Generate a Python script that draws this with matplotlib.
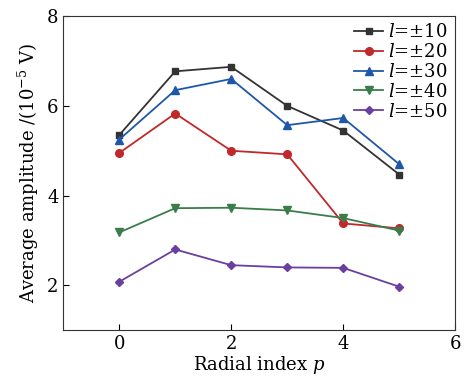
import matplotlib
matplotlib.use('Agg')
import matplotlib.pyplot as plt

plt.rcParams['font.family'] = 'DejaVu Serif'
plt.rcParams['mathtext.fontset'] = 'dejavuserif'

# radial index p
p = [0, 1, 2, 3, 4, 5]
# average amplitude (1e-5 V) for each topological charge
amp10 = [5.35, 6.77, 6.87, 6.00, 5.45, 4.47]
amp20 = [4.95, 5.83, 5.00, 4.92, 3.38, 3.27]
amp30 = [5.25, 6.35, 6.60, 5.57, 5.73, 4.70]
amp40 = [3.18, 3.72, 3.73, 3.67, 3.50, 3.22]
amp50 = [2.08, 2.80, 2.45, 2.40, 2.39, 1.97]
labels = [r'$l$=$\pm$10', r'$l$=$\pm$20', r'$l$=$\pm$30', r'$l$=$\pm$40', r'$l$=$\pm$50']

fig = plt.figure(figsize=(4.65, 3.84), dpi=100)
ax = fig.add_axes([0.136, 0.14, 0.843, 0.818])

ax.plot(p, amp10, color='#333333', marker='s', ms=5, lw=1.3, label=labels[0])
ax.plot(p, amp20, color='#c0282a', marker='o', ms=5.5, lw=1.3, label=labels[1])
ax.plot(p, amp30, color='#1f57a8', marker='^', ms=6, lw=1.3, label=labels[2])
ax.plot(p, amp40, color='#3a7d4a', marker='v', ms=6, lw=1.3, label=labels[3])
ax.plot(p, amp50, color='#6a3fa0', marker='D', ms=4.5, lw=1.3, label=labels[4])

ax.set_xlim(-1, 6)
ax.set_ylim(1, 8)
ax.set_xticks([0, 2, 4, 6])
ax.set_yticks([2, 4, 6, 8])
ax.tick_params(direction='in', labelsize=13, length=4, top=False, right=False)
for s in ax.spines.values():
    s.set_color('#333333')
ax.set_xlabel(r'Radial index $p$', fontsize=13, labelpad=1)
ax.set_ylabel(r'Average amplitude /(10$^{-5}$ V)', fontsize=13, labelpad=4)

leg = ax.legend(loc='upper right', fontsize=13, frameon=False,
                handlelength=1.6, handletextpad=0.3,
                labelspacing=0.1, borderpad=0.3, borderaxespad=0.1)

fig.savefig('out.png', dpi=100)
